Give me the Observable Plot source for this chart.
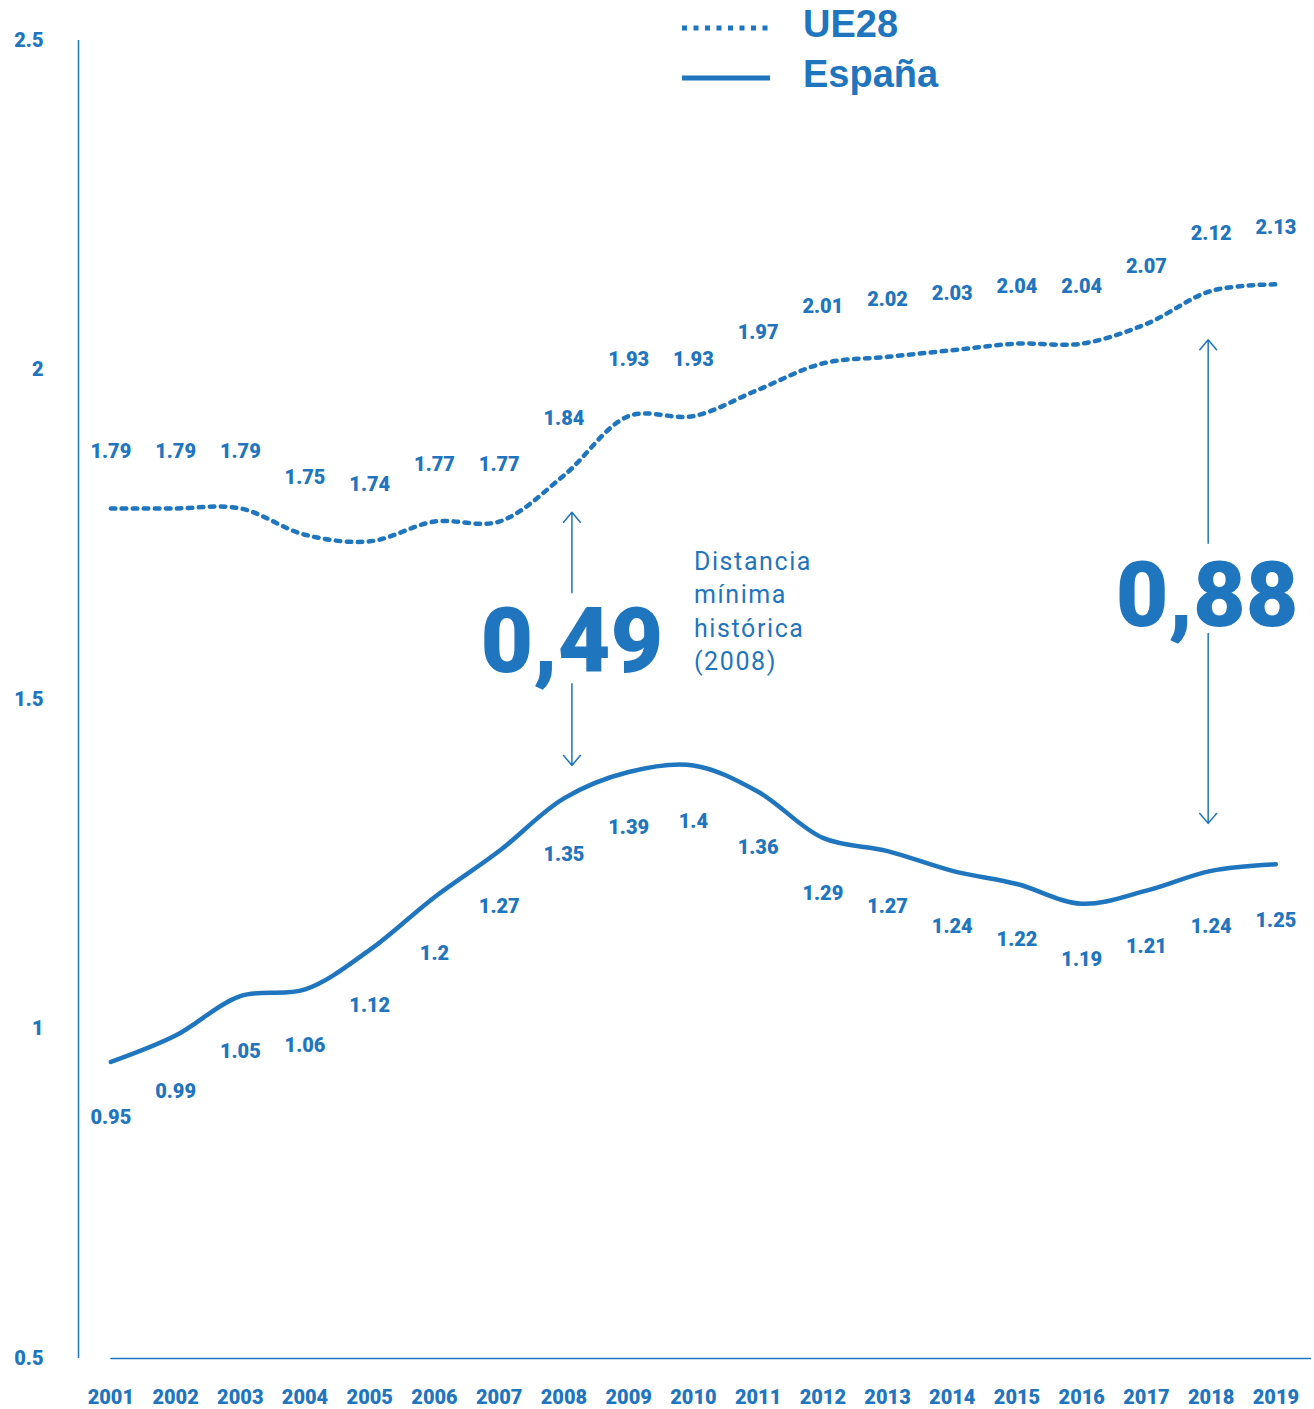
<!DOCTYPE html>
<html><head><meta charset="utf-8">
<script src="https://cdn.jsdelivr.net/npm/d3@7"></script>
<script src="https://cdn.jsdelivr.net/npm/@observablehq/plot@0.6"></script>
<style>
body{margin:0;background:#fff;font-family:Roboto,sans-serif}
#wrap{position:relative;width:1314px;height:1409px}
#legend{position:absolute;left:682px;top:0}
</style></head><body><div id="wrap"></div>
<script>
const years = [2001,2002,2003,2004,2005,2006,2007,2008,2009,2010,2011,2012,2013,2014,2015,2016,2017,2018,2019];
const ue28 = [1.79,1.79,1.79,1.75,1.74,1.77,1.77,1.84,1.93,1.93,1.97,2.01,2.02,2.03,2.04,2.04,2.07,2.12,2.13];
const espana = [0.95,0.99,1.05,1.06,1.12,1.2,1.27,1.35,1.39,1.4,1.36,1.29,1.27,1.24,1.22,1.19,1.21,1.24,1.25];
const yTicks = [0.5,1,1.5,2,2.5];
const seriesNames = ["UE28","España"];
const gapArrows2008 = [
  {x:2008, from:1.662, to:1.784},
  {x:2008, from:1.524, to:1.40}
];
const gapArrows2018 = [
  {x:2018, from:1.737, to:2.046},
  {x:2018, from:1.600, to:1.312}
];
const gapLabel2008 = [{x:2008, y:1.59, text:"0,49"}];
const gapLabel2018 = [{x:2018, y:1.661, text:"0,88"}];
const noteText = ["Distancia","mínima","histórica","(2008)"];
const noteAt = [{x:2008, y:1.733}];

const blue = "#1f75be";
const ueData = years.map((y,i)=>({year:y, v:ue28[i]}));
const esData = years.map((y,i)=>({year:y, v:espana[i]}));
const W = 900;

const chart = Plot.plot({
  width:1314, height:1409,
  marginTop:40, marginBottom:51, marginLeft:78, marginRight:3,
  x:{domain:[2000.5, 2019.55]},
  y:{domain:[0.5, 2.5]},
  style:{fontFamily:"Roboto, sans-serif", background:"#fff"},
  marks:[
    Plot.ruleX([2000.5], {y1:0.5, y2:2.5, stroke:blue, strokeWidth:1.5}),
    Plot.ruleY([0.5], {x1:2001, x2:2019.55, stroke:blue, strokeWidth:1.5}),
    Plot.axisY({ticks:yTicks, tickSize:0, tickPadding:35, tickFormat:d=>String(d), fontSize:20, fontWeight:W, color:blue, label:null}),
    Plot.axisX({ticks:years, tickSize:0, tickPadding:31, tickFormat:d=>String(d), fontSize:20, fontWeight:W, color:blue, label:null}),
    Plot.line(ueData, {x:"year", y:"v", curve:"catmull-rom", stroke:blue, strokeWidth:4.5, strokeDasharray:"4.5,6.5"}),
    Plot.line(esData, {x:"year", y:"v", curve:"catmull-rom", stroke:blue, strokeWidth:4.5}),
    Plot.text(ueData, {x:"year", y:"v", text:d=>String(d.v), dy:-57, fontSize:20, fontWeight:W, fill:blue}),
    Plot.text(esData, {x:"year", y:"v", text:d=>String(d.v), dy:56, fontSize:20, fontWeight:W, fill:blue}),
    Plot.arrow(gapArrows2008, {x1:"x", x2:"x", y1:"from", y2:"to", dx:8, stroke:blue, strokeWidth:1.5, headLength:13, headAngle:80}),
    Plot.arrow(gapArrows2018, {x1:"x", x2:"x", y1:"from", y2:"to", dx:-3, stroke:blue, strokeWidth:1.5, headLength:13, headAngle:80}),
    Plot.text(gapLabel2008, {x:"x", y:"y", text:"text", fontSize:91, fontWeight:W, fill:blue, dy:3, dx:8}),
    Plot.text(gapLabel2018, {x:"x", y:"y", text:"text", fontSize:91, fontWeight:W, fill:blue, dy:3, dx:-4}),
    Plot.text(noteAt, {x:"x", y:"y", text:()=>noteText.join("\n"), textAnchor:"start", lineAnchor:"top", dx:130, fontSize:25, lineHeight:1.34, fill:blue, fontWeight:400})
  ]
});
const wrap = document.getElementById("wrap");
wrap.appendChild(chart);
d3.select(chart).selectAll("text").filter(function(){ return this.textContent.startsWith("Distancia"); }).style("letter-spacing","1.6px");

// legend
const dashes = ["5,6.5", null];
const lineY = [28, 78];
const baseY = [37, 87];
const leg = d3.select(wrap).append("svg").attr("id","legend").attr("width",300).attr("height",100);
seriesNames.forEach((name,i)=>{
  const l = leg.append("line").attr("x1",0).attr("x2",88).attr("y1",lineY[i]).attr("y2",lineY[i])
    .attr("stroke",blue).attr("stroke-width",5);
  if (dashes[i]) l.attr("stroke-dasharray",dashes[i]);
  leg.append("text").attr("x",121).attr("y",baseY[i]).attr("fill",blue)
    .attr("font-family","'Liberation Sans', Arial, sans-serif").attr("font-weight",700).attr("font-size",38)
    .text(name);
});
</script></body></html>
